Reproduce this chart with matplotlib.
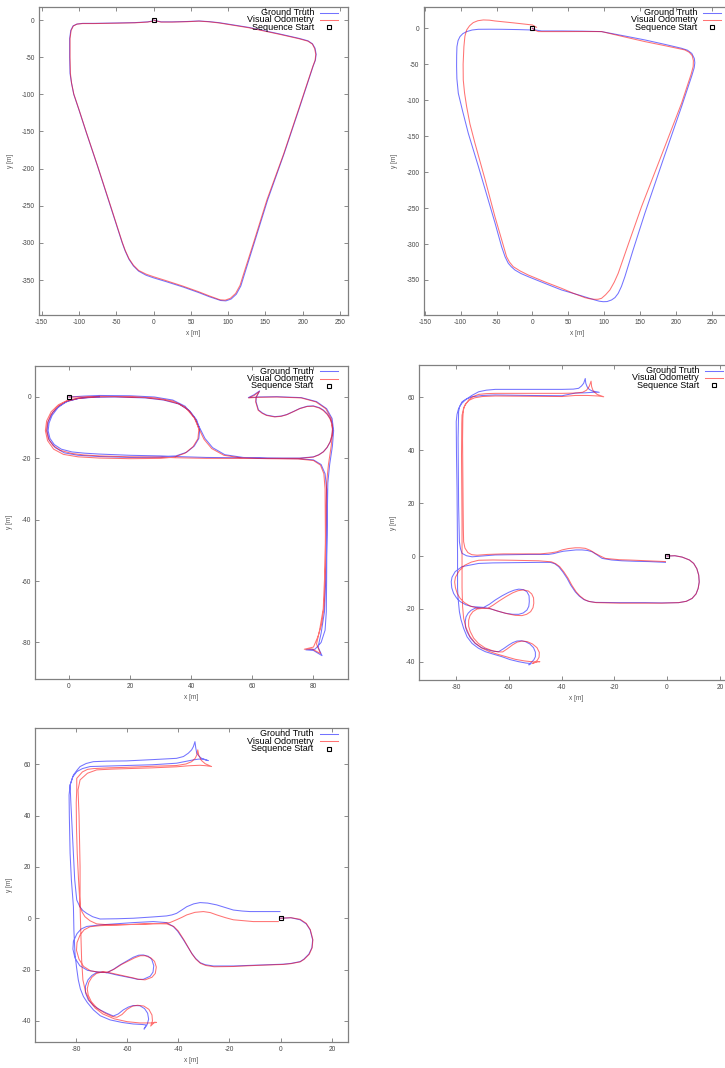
import matplotlib.pyplot as plt

# ---------------- data (trajectory waypoints, metres) ----------------
# panel 1
gt1 = [(0, 0), (3, -1), (10, -2.5), (25, -2.5), (45, -2), (61, -1.3), (75, -2.2), (88, -3.6), (128, -10),
       (170, -19), (195, -24.7), (207, -28), (213, -32), (216.5, -38), (218, -46), (217, -54), (214, -62),
       (196, -117), (175, -180), (153, -242), (135, -300), (121, -345), (117, -358), (111, -369),
       (104, -375.5), (97, -378), (90, -377.5), (75, -372.5), (61, -367), (40, -359.5), (16.5, -352),
       (0, -347), (-10, -343.5), (-20, -338), (-27, -331), (-33, -322), (-38, -311), (-42, -300),
       (-58, -250), (-75, -197), (-90, -152), (-100, -121), (-107, -100), (-110, -85), (-112, -72),
       (-112.5, -50), (-112.5, -25), (-111, -14), (-108, -8), (-103, -5.5), (-95, -4.5), (-80, -4.5),
       (-50, -4), (-25, -3.5), (-8, -2.5), (-2, -1.5)]
vo1 = [(0, 0), (3, -1.2), (10, -2.8), (25, -2.8), (45, -2.3), (61, -1.5), (75, -2.5), (88, -4), (128, -10.5),
       (170, -19.5), (195, -25.2), (207, -28.5), (213, -32.5), (216, -38.5), (217.5, -46.5), (216.5, -54.5),
       (213.5, -62.5), (195.5, -117), (174.5, -180), (152, -242), (134, -300), (120, -344), (116, -357),
       (110, -368), (103, -374.5), (96, -377), (89, -376.5), (74, -371), (60, -365.5), (39, -358),
       (16, -350.5), (0, -345.5), (-10, -342), (-20, -337), (-27, -330), (-33, -321), (-38, -310),
       (-42, -299), (-58, -249), (-75, -196.5), (-90, -151.5), (-100, -120.5), (-107, -99.5),
       (-110, -84.5), (-111.5, -71.5), (-112, -50), (-112, -25), (-110.5, -14), (-107.5, -8),
       (-102.5, -5.5), (-95, -4.8), (-80, -4.8), (-50, -4.3), (-25, -3.8), (-8, -2.8), (-2, -1.8)]

# panel 2
gt2 = [(0, 0), (3.5, -2.3), (12.8, -3.7), (40.6, -3.7), (70, -4), (96.3, -4.6), (130, -11), (156.6, -16.2),
       (185, -22.5), (207.7, -27.8), (216, -30.5), (222, -35), (225.5, -42), (226.2, -48), (225.3, -55),
       (222, -66), (207.7, -109), (182, -183), (156.6, -257.3), (140, -309), (128.8, -345.4), (124, -359),
       (119.5, -368.6), (115, -374.5), (110.2, -377.8), (104, -380), (98.6, -380.2), (93, -379.5),
       (87, -377.8), (65, -371), (40.6, -363.9), (18, -355), (-5.8, -345.4), (-16, -341), (-24.4, -336.1),
       (-29.5, -331.5), (-33.6, -326.8), (-38, -318), (-42.9, -303.7), (-52, -271), (-61.5, -238.8),
       (-75, -193), (-89.3, -146), (-97, -116), (-103.2, -90.4), (-105.2, -70), (-105.6, -53.3),
       (-105.5, -38), (-105.1, -25.5), (-103.5, -17), (-100.9, -11.6), (-97, -7.5), (-91.6, -4.6),
       (-84, -2.4), (-75.4, -1.4), (-60, -1.3), (-42.9, -1.4), (-20, -1.8), (-3.5, -2.3)]
vo2 = [(0, 0), (3, -2.5), (8.1, -4.6), (40.6, -4.6), (70, -4.5), (96.3, -4.6), (126, -11.5), (156.6, -18.5),
       (186, -24.5), (212.3, -30.1), (218.5, -33.5), (222.5, -38), (224.2, -45), (223.9, -53.3), (221, -64),
       (207.7, -104.3), (180, -176), (152, -248), (134, -299), (119.5, -340.7), (114, -353),
       (107.9, -363.9), (102, -370.5), (96.3, -375.5), (91.5, -376.8), (87, -376.9), (80, -376.2),
       (73.1, -374.6), (57, -368.5), (40.6, -361.6), (17, -352.5), (-5.8, -343.1), (-17, -337.5),
       (-26.7, -331.5), (-32, -325), (-36, -317.6), (-44, -290), (-52.2, -261.9), (-66, -210),
       (-80, -159.9), (-87, -133), (-91.6, -108.9), (-94.5, -90), (-96.3, -71.9), (-96.5, -50),
       (-95.4, -25.5), (-94, -11), (-91.6, -2.3), (-87.5, 3.5), (-82.4, 7.9), (-76, 10.5), (-68.4, 11.6),
       (-60, 11.3), (-52.2, 10.2), (-26, 7.5), (0, 4.6), (5.8, 1.4)]

# panel 3
gt3 = [(0, 0), (5, 0.3), (10, 0.5), (20, 0.4), (28, 0), (34, -1), (38, -3), (41, -6.5), (43, -10.5),
       (44.5, -13.5), (47, -16.5), (51, -18.8), (57, -19.7), (65, -20), (75, -20.1), (80, -20.5),
       (82.5, -22), (83.8, -25), (84.3, -30), (84.4, -45), (84.3, -60), (84.2, -70), (83.8, -76),
       (82.5, -80), (80.5, -82.2), (77.5, -82.4), (80, -82.6), (82.8, -84.3),
       (81.5, -81.5), (82.5, -77), (83.6, -70), (84.2, -55), (84.5, -40), (84.7, -28), (85.3, -22),
       (86.2, -16), (86.6, -11), (86.1, -7), (84.3, -3.8), (81, -1.5), (76, -0.2), (68, 0.1), (62, 0),
       (58.7, -0.2), (60.5, 0.7), (62.4, 2), (61.3, 0), (61.2, -1.5), (62, -4.2), (63.3, -5.2),
       (64.7, -5.9), (67.4, -6.4), (69.5, -6.2), (71.3, -5.7), (73.5, -4.7), (75.6, -3.7), (78, -3),
       (80, -2.9), (82, -3.5), (83.3, -4.3), (84.6, -5.6), (85.5, -7), (86.1, -8.7), (86.3, -10.3),
       (86.1, -12.5), (85.5, -14.6), (84.5, -16.4), (83.3, -17.8), (81.8, -18.8), (80, -19.5),
       (75.6, -19.9), (65, -19.9), (55, -19.8), (45, -19.7), (35, -19.4), (30, -19.2), (20, -19),
       (10, -18.6), (5, -18.3), (1, -17.9), (-2.5, -17), (-4.8, -15.5), (-6.2, -13.5), (-6.8, -11),
       (-6.5, -8.5), (-5.5, -6), (-3.6, -3.5), (-1, -1.6), (3, -0.5), (8, -0.1), (15, 0), (25, -0.3),
       (31, -1), (36, -2.3), (39.5, -4.5), (41.8, -7.5), (42.8, -10.5), (42.5, -13.5), (41, -16),
       (38.5, -18), (35, -19.2), (30, -19.6), (20, -19.7), (10, -19.4), (3, -19), (-1.5, -18.2),
       (-4.5, -16.5), (-6.5, -14), (-7.2, -11), (-6.8, -8), (-5.3, -5), (-3, -2.8), (0, -1.2),
       (4, -0.3), (10, 0.1)]
vo3 = [(0, 0), (5, 0), (10, 0.2), (20, 0.1), (28, -0.3), (34, -1.3), (38, -3.3), (41, -6.8), (42.7, -10.7),
       (44.2, -13.8), (46.7, -16.8), (50.7, -19), (56.7, -19.9), (65, -20.1), (75, -20.2), (80, -20.7),
       (82.3, -22.2), (83.4, -25), (83.8, -30), (83.9, -45), (83.8, -60), (83.5, -68), (82.7, -74),
       (81.5, -78), (80, -81.5), (77, -82.2), (79.5, -82.1), (82.3, -83.6),
       (81, -80.5), (82, -76), (83.2, -69), (83.8, -55), (84.1, -40), (84.3, -28), (84.9, -22),
       (85.8, -16), (86.3, -11), (85.8, -7), (84, -3.8), (80.8, -1.6), (76, -0.3), (68, 0), (62, -0.1),
       (58.8, -0.3), (60.6, 0.5), (62.3, 1.8), (61.2, -0.1), (61.1, -1.6), (61.9, -4.3), (63.2, -5.3),
       (64.6, -6), (67.3, -6.5), (69.4, -6.3), (71.2, -5.8), (73.4, -4.8), (75.5, -3.8), (77.9, -3.1),
       (79.9, -3), (81.9, -3.6), (83.2, -4.4), (84.5, -5.7), (85.4, -7.1), (86, -8.8), (86.2, -10.4),
       (86, -12.6), (85.4, -14.7), (84.4, -16.5), (83.2, -17.9), (81.7, -18.9), (79.9, -19.6),
       (75.5, -20), (65, -20), (55, -20), (45, -20), (35, -19.8), (30, -19.6), (20, -19.5),
       (10, -19.2), (5, -18.9), (1, -18.4), (-2.8, -17.4), (-5.2, -15.8), (-6.7, -13.6), (-7.3, -11),
       (-7, -8.4), (-5.9, -5.8), (-3.9, -3.3), (-1.2, -1.5), (3, -0.5), (8, 0), (15, 0.1), (25, -0.2),
       (31, -0.9), (36, -2.2), (39.3, -4.4), (41.5, -7.5), (42.5, -10.5), (42.2, -13.6), (40.6, -16.2),
       (38, -18.3), (34.5, -19.6), (30, -20), (20, -20.1), (10, -19.9), (3, -19.5), (-1.8, -18.7),
       (-5, -17), (-7, -14.2), (-7.7, -11), (-7.3, -7.8), (-5.8, -4.8), (-3.4, -2.5), (-0.3, -1),
       (4, -0.2), (10, 0.2)]

# panel 4
gt4 = [(0, 0), (3, 0.1), (5.7, -0.4), (8.5, -1.5), (10.1, -2.8), (11.3, -4.8), (12, -7.2), (12.2, -9.8),
       (11.8, -12.2), (11, -14.3), (9.5, -16), (7.3, -17.1), (4.4, -17.6), (-2, -17.7), (-8.2, -17.6),
       (-18, -17.6), (-27.2, -17.5), (-29.8, -17.1), (-31.6, -16.4), (-33.3, -15.1), (-34.8, -13.5),
       (-36.5, -11), (-37.9, -8.4), (-39.5, -6), (-41.1, -4), (-42.6, -2.9), (-44.2, -2.4), (-48.7, -2.4),
       (-58.8, -2.5), (-66, -2.6), (-71.4, -2.8), (-74.6, -3.4), (-77.7, -4), (-80.3, -5.9), (-81.5, -8),
       (-81.8, -9.7), (-81.6, -12), (-80.9, -14.1), (-79.8, -15.8), (-78.4, -17.2), (-76.3, -18.4),
       (-73.9, -19.1), (-69.5, -19.4),
       (-67.3, -18.2), (-65.1, -16.6), (-62.5, -15), (-60, -13.7), (-58, -12.9), (-56.2, -12.5),
       (-54.4, -12.7), (-53.1, -13.5), (-52.3, -15), (-52.2, -17.2), (-52.4, -19), (-53.1, -20.4),
       (-54.5, -21.5), (-56.2, -22), (-58.5, -22), (-61.3, -21.6), (-64.5, -20.7), (-67.6, -19.7),
       (-70, -19.5), (-72.7, -19.7), (-74.3, -20.5), (-75.4, -21.6), (-76.2, -23), (-76.5, -24.8),
       (-76.4, -26.8), (-75.8, -28.6), (-74.5, -31), (-72.7, -33), (-70.3, -34.6), (-67.6, -35.5),
       (-65.5, -36), (-63.8, -36.1),
       (-62, -35), (-60, -33.6), (-58.5, -32.7), (-56.9, -32.1), (-55.2, -32), (-53.7, -32.3),
       (-52, -33.2), (-50.6, -34.6), (-49.9, -36.3), (-49.9, -38), (-50.5, -39.2), (-51.2, -39.9),
       (-52.4, -41.1),
       (-51.5, -40.6), (-53.5, -40.4), (-56.2, -39.9), (-59.5, -39.1), (-62.6, -38), (-66, -37),
       (-68.9, -36.1), (-71.5, -34.8), (-73.9, -33), (-75.8, -30.5), (-77.1, -27.3), (-78.1, -24),
       (-78.7, -21), (-79.2, -16), (-79.4, -12.2), (-79.4, -5), (-79.4, 0.4), (-79.5, 12), (-79.6, 25.5),
       (-79.8, 38), (-79.9, 50.7), (-79.6, 53.5), (-79, 55.7), (-77.9, 57.5), (-76.5, 58.9), (-74, 60.6),
       (-71.4, 62), (-68.5, 62.6), (-65.1, 62.9), (-52, 62.9), (-39.8, 62.9), (-35.5, 63), (-33.5, 63.3),
       (-32.4, 64.2), (-31.6, 65.2), (-31, 67), (-30.8, 65.2), (-30.3, 63.9), (-29.5, 62.9),
       (-28.4, 62.3), (-25.7, 61.8),
       (-28, 61.8), (-31, 61.6), (-34.8, 61.5), (-39.8, 60.5), (-52, 60.6), (-65.1, 60.8), (-70, 60.6),
       (-73.9, 60.1), (-76, 59.3), (-77.7, 58.2), (-78.6, 56.5), (-79, 54.5), (-79.2, 44.4), (-79.1, 30),
       (-79, 19.2), (-78.8, 10), (-78.7, 5.4), (-78.3, 2.8), (-77.7, 1), (-76, 0.1), (-73.9, -0.3),
       (-70, 0), (-65.1, 0.4), (-58, 0.5), (-52.4, 0.6), (-44.9, 0.6), (-43, 0.9), (-41.1, 1.4),
       (-39.3, 1.8), (-37.3, 2), (-34.5, 2.3), (-32.2, 2.3), (-30.2, 2.1), (-28.4, 1.6), (-26.5, 0.4),
       (-24.6, -0.9), (-21, -1.5), (-17.1, -1.8), (-12, -2), (-7, -2.1), (-0.6, -2.4)]
vo4 = [(0, 0), (3, 0.1), (5.7, -0.4), (8.5, -1.5), (10.1, -2.8), (11.3, -4.8), (12, -7.2), (12.2, -9.8),
       (11.8, -12.2), (11, -14.3), (9.5, -16), (7.3, -17.1), (4.4, -17.6), (-2, -17.8), (-8.2, -17.8),
       (-18, -17.8), (-26.8, -17.6), (-29.4, -17.2), (-31.2, -16.5), (-32.9, -15.2), (-34.4, -13.6),
       (-36.1, -11), (-37.5, -8.4), (-39.1, -6), (-40.7, -4), (-42.2, -2.9), (-43.8, -2.2), (-48.7, -1.8),
       (-58.8, -1.6), (-66, -1.5), (-71.4, -1.6), (-74.2, -2.3), (-76.7, -3.5), (-78.8, -5.6), (-80.2, -8),
       (-80.5, -9.8), (-80.2, -12), (-79.5, -14.2), (-78.4, -16), (-76.8, -17.6), (-74.6, -18.9),
       (-72, -19.6), (-68, -19.8),
       (-66, -18.6), (-63.7, -17), (-61, -15.3), (-58.5, -13.9), (-56.5, -13.1), (-54.5, -12.8),
       (-52.6, -13.2), (-51.3, -14.3), (-50.6, -15.8), (-50.5, -17.8), (-50.8, -19.5), (-51.7, -21),
       (-53.2, -22), (-55, -22.5), (-57.5, -22.4), (-60.5, -21.8), (-63.8, -20.9), (-67, -19.9),
       (-69.5, -19.7), (-72, -20), (-73.6, -21), (-74.7, -22.5), (-75.2, -24.3), (-75.2, -26.5),
       (-74.6, -28.5), (-73.3, -31), (-71.5, -33), (-69, -34.7), (-66.3, -35.7), (-64, -36.2),
       (-62.3, -36.2),
       (-60.5, -35), (-58.5, -33.5), (-56.8, -32.5), (-55, -32.1), (-53, -32.3), (-51, -33.2),
       (-49.3, -34.6), (-48.4, -36.4), (-48.5, -38.2), (-49.2, -39.4), (-50, -40), (-51, -40.6),
       (-49, -39.8), (-48.2, -39.9),
       (-50.5, -40), (-54, -39.6), (-57.5, -39), (-61, -38), (-64.5, -37), (-67.5, -36), (-70.3, -34.7),
       (-72.8, -32.8), (-74.8, -30.2), (-76.2, -27), (-77.1, -23.5), (-77.5, -19), (-77.7, -12),
       (-77.7, -4), (-77.7, 0.4), (-77.7, 12), (-77.8, 25.5), (-77.9, 38), (-77.8, 50), (-77.7, 53.2),
       (-76.8, 56.5), (-75.2, 58.9), (-73.5, 60.2), (-71.4, 61), (-68.5, 61.3), (-65.1, 61.4),
       (-52, 61.4), (-39.8, 61.4), (-35, 61.5), (-32, 61.8), (-30.5, 62.6), (-29.5, 64), (-28.8, 66),
       (-28.6, 64), (-28, 62.3), (-26.5, 61), (-24, 60.1),
       (-26, 60.4), (-30, 60.6), (-34.8, 60.6), (-39.8, 60.2), (-52, 60.3), (-65.1, 60.4), (-70, 60.2),
       (-73, 59.7), (-75, 58.8), (-76.4, 57.4), (-77.2, 55.5), (-77.4, 52), (-77.5, 44), (-77.4, 30),
       (-77.3, 19.2), (-77.2, 10), (-77.1, 5.4), (-76.6, 3), (-75.5, 1.3), (-74, 0.5), (-72, 0.3),
       (-68, 0.6), (-62, 0.8), (-55, 0.8), (-48, 0.8), (-44, 1.2), (-41.7, 1.6), (-39.8, 2.3),
       (-37.5, 2.8), (-34.8, 3.1), (-33, 3.1), (-31, 2.9), (-29, 2.1), (-27.2, 1), (-25.3, 0),
       (-23.4, -0.9), (-18, -1.4), (-14.5, -1.5), (-8, -1.8), (-0.6, -2.1)]

# panel 5
gt5 = [(0, 0), (4, 0.2), (7.6, -0.6), (10, -2.2), (11.5, -4.5), (12.5, -8.4), (12.2, -11.5), (11, -14),
       (9, -16), (7.6, -16.9), (4, -17.6), (1, -17.9), (-10, -18.3), (-18.5, -18.6), (-26.3, -18.6),
       (-29.5, -18.1), (-31.5, -17.3), (-33.3, -15.6), (-34.8, -13.6), (-38, -8.4), (-40.3, -5),
       (-42, -3.2), (-44.6, -1.7), (-49.8, -1.3), (-57.6, -1.7), (-70.6, -2.6), (-75.8, -3.2),
       (-78, -4.2), (-79.6, -6), (-81, -9), (-81.2, -12), (-80.4, -15.5), (-78.5, -18.5),
       (-75.5, -20.3), (-71.9, -20.9), (-68, -21.2),
       (-65.5, -20), (-62.8, -18.2), (-57.6, -15.2), (-55.5, -14.4), (-53.7, -14.3), (-51.8, -14.8),
       (-50.4, -16), (-49.6, -18.5), (-49.9, -21), (-51, -22.6), (-53.7, -23.8), (-56, -23.8),
       (-57.6, -23.4), (-61, -22.7), (-64.1, -22.1), (-67, -21.4), (-69.3, -21), (-72, -21.2),
       (-73.8, -22.3), (-75.3, -24), (-76.3, -26.5), (-76.3, -29), (-75.2, -31.8), (-73.2, -34),
       (-70.6, -35.7), (-68, -37), (-65.4, -38.1),
       (-63.5, -37.3), (-61.5, -35.7), (-59.5, -34.6), (-57.6, -34), (-55, -34.1), (-53.2, -35.2),
       (-52, -37), (-51.6, -39.3), (-52.2, -41.5), (-53.4, -43.2),
       (-52.5, -41.6), (-54, -41.4), (-57.6, -41.2), (-62, -40.6), (-66.7, -39.6), (-70.5, -38),
       (-73.2, -35.7), (-75.6, -32.8), (-77.1, -30.5), (-78.3, -27.5), (-79.1, -24), (-79.8, -19),
       (-80.4, -13.6), (-80.8, -5), (-81, 4.5), (-81.8, 15), (-82.3, 25.3), (-82.6, 40), (-82.7, 48),
       (-82.3, 51.9), (-81, 55.8), (-79.5, 57.8), (-78.4, 59.1), (-76, 60.3), (-73.2, 61), (-68, 61.2),
       (-60.2, 61.3), (-50, 61.8), (-40.7, 62.3), (-38, 63), (-36.1, 64.3), (-34.8, 65.6),
       (-34.1, 66.9), (-33.5, 68.8), (-33.2, 66.5), (-32.8, 64.3), (-31.8, 63), (-30.9, 62.3),
       (-29.5, 61.7), (-28.3, 61.4),
       (-30, 62), (-32, 62), (-34.1, 61.7), (-40.7, 60.4), (-50, 59.8), (-60.2, 59.5), (-68, 59.3),
       (-74.5, 59.1), (-77.5, 58.3), (-79.7, 57.1), (-81.3, 55), (-82.3, 51.9), (-82, 45), (-81.5, 35),
       (-81, 25), (-80.5, 15), (-80, 10), (-79.7, 7.1), (-78.5, 4.5), (-77.3, 3), (-75.8, 1.9),
       (-73.5, 0.6), (-70.6, -0.3), (-64, -0.2), (-57.6, 0), (-50, 0.5), (-44.6, 0.9), (-42.5, 1.3),
       (-40.7, 1.9), (-38.5, 3.3), (-36.7, 4.5), (-34, 5.6), (-31.5, 6.1), (-28.5, 5.9), (-25, 5.2),
       (-21.5, 4.1), (-18.5, 3.2), (-15, 2.8), (-12, 2.6), (-6, 2.6), (-0.3, 2.6)]
vo5 = [(0, 0), (4, 0.2), (7.6, -0.4), (10, -2), (11.6, -4.5), (12.6, -8.4), (12.3, -11.5), (11.2, -14),
       (9.2, -16), (7.6, -17), (4, -17.7), (1, -18), (-10, -18.4), (-18.5, -18.8), (-26, -18.9),
       (-29.3, -18.4), (-31.3, -17.6), (-33.1, -16), (-34.6, -14), (-37.7, -8.6), (-40, -5),
       (-41.8, -3.2), (-44.5, -2.2), (-49.8, -2.1), (-57.6, -2.4), (-64, -2.6), (-70.6, -2.9),
       (-74.5, -3.3), (-76.8, -4.5), (-78.4, -6.5), (-79.6, -9.5), (-79.8, -12.5), (-78.8, -16),
       (-77, -18.8), (-74.3, -20.5), (-71, -21), (-67.5, -21),
       (-65, -19.8), (-62.2, -18), (-57, -15.4), (-54.8, -14.6), (-53, -14.6), (-50.8, -15.4),
       (-49.3, -16.8), (-48.6, -19), (-49, -21.5), (-50.3, -23), (-53, -24), (-55.5, -23.8),
       (-57.4, -23.3), (-61, -22.5), (-64, -21.8), (-67, -21.2), (-69.5, -20.9), (-72, -21.5),
       (-73.8, -23), (-75, -25), (-75.6, -27.5), (-75.2, -30), (-74, -32.5), (-71.8, -35), (-69, -36.8),
       (-66, -38.2), (-64, -38.6),
       (-62, -37.5), (-60, -35.5), (-58, -34.3), (-56, -33.9), (-53.5, -34.2), (-51.5, -35.5),
       (-50.3, -37.7), (-50.1, -40), (-50.8, -42), (-49.3, -40.5), (-48.5, -40.6),
       (-50.5, -40.8), (-55, -40.8), (-60, -40.3), (-65, -39.2), (-69.5, -37.3), (-72.5, -35),
       (-74.8, -32), (-76.3, -28.5), (-77.3, -24), (-77.8, -16), (-78.1, -5), (-78.4, 4.5), (-79, 15),
       (-79.5, 25), (-79.8, 35), (-79.9, 45), (-79.7, 50), (-79.7, 54.5), (-77.5, 57), (-75.5, 58),
       (-73.2, 58.3), (-67, 58.6), (-60.2, 58.8), (-50, 59.2), (-40.7, 59.5), (-37, 60.1), (-34.8, 61),
       (-33.4, 62.3), (-32.8, 63.6), (-32.4, 65.6), (-32, 63.5), (-31, 61.5), (-29.5, 60.2), (-27, 59.1),
       (-29, 59.4), (-31.5, 59.6), (-36, 59.4), (-40.7, 59), (-50, 58.6), (-60.2, 58.3), (-66, 58.1),
       (-71.9, 57.8), (-75.5, 56.5), (-78.4, 53.9), (-79.2, 50), (-78.8, 40), (-78.6, 30), (-78.4, 20),
       (-78.4, 10), (-78.4, 4.5), (-77.6, 2.4), (-76.5, 0.6), (-74.5, -1), (-71.9, -2.2), (-68, -2.5),
       (-64.1, -2.6), (-57, -2.4), (-51.1, -2.2), (-46, -2), (-43.3, -1.7), (-40.7, -0.6), (-38.5, 0.4),
       (-36.7, 1.3), (-33.5, 2.3), (-30.2, 2.6), (-27.5, 2.2), (-25, 1.3), (-21.5, 0.2), (-18.5, -0.6),
       (-14, -1), (-10.7, -1.3), (-5, -1.3), (-0.9, -1.3)]

start_point = (0, 0)
legend_labels = ['Ground Truth', 'Visual Odometry', 'Sequence Start']
ticks_big_x = [-150, -100, -50, 0, 50, 100, 150, 200, 250]
ticks_big_y = [0, -50, -100, -150, -200, -250, -300, -350]
ticks3_x = [0, 20, 40, 60, 80]
ticks3_y = [0, -20, -40, -60, -80]
ticks45_x = [-80, -60, -40, -20, 0, 20]
ticks45_y = [60, 40, 20, 0, -20, -40]

# ---------------- drawing ----------------
W, H = 725, 1068
BLUE = '#0000ff'
RED = '#ff0000'
plt.rcParams['font.family'] = ['Liberation Sans', 'DejaVu Sans']
plt.rcParams['axes.unicode_minus'] = False  # gnuplot prints plain hyphens

fig = plt.figure(figsize=(W / 100, H / 100), dpi=100)


def panel(rect, xlim, ylim, xticks, yticks, gt, vo):
    left, top, right, bottom = rect
    w, h = right - left, bottom - top
    ax = fig.add_axes([left / W, 1 - bottom / H, w / W, h / H])
    gx, gy = zip(*gt)
    vx, vy = zip(*vo)
    ax.plot(gx, gy, color=BLUE, lw=0.75, alpha=0.55)
    ax.plot(vx, vy, color=RED, lw=0.75, alpha=0.55)
    ax.plot([start_point[0]], [start_point[1]], 's', ms=2.5, mfc='none', mec='black', mew=0.8)
    ax.set_xlim(*xlim)
    ax.set_ylim(*ylim)
    ax.set_xticks(xticks)
    ax.set_yticks(yticks)
    ax.tick_params(direction='in', length=3, width=0.6, color='#777777', labelsize=4.7,
                   labelcolor='#444444', top=True, right=True, pad=3)
    for s in ax.spines.values():
        s.set_color('#808080')
        s.set_linewidth(0.9)
    ax.set_xlabel('x [m]', fontsize=4.7, color='#555555', labelpad=3)
    ax.set_ylabel('y [m]', fontsize=4.7, color='#555555', labelpad=6)

    # gnuplot style key, right aligned text with sample to the right
    for i, lab in enumerate(legend_labels):
        yy = 1 - (5.7 + 7.3 * i) / h
        ax.text(1 - 34 / w, yy, lab, transform=ax.transAxes, ha='right', va='center',
                fontsize=6.5, color='black')
        if i < 2:
            ax.plot([1 - 28 / w, 1 - 10 / w], [yy, yy], transform=ax.transAxes,
                    color=[BLUE, RED][i], lw=0.75, alpha=0.55, clip_on=False)
        else:
            ax.plot([1 - 19 / w], [yy], 's', transform=ax.transAxes, ms=2.5, mfc='none',
                    mec='black', mew=0.8, clip_on=False)
    return ax


panel((39, 7, 348, 315), (-153.6, 260.7), (-397, 17.5), ticks_big_x, ticks_big_y, gt1, vo1)
panel((423.7, 7, 731.3, 315), (-151.4, 277), (-398.7, 29.6), ticks_big_x, ticks_big_y, gt2, vo2)
panel((35.3, 365.7, 347.7, 679), (-11, 91.2), (-91.9, 10.2), ticks3_x, ticks3_y, gt3, vo3)
panel((419.3, 365, 733, 680), (-93.9, 25), (-46.8, 72.1), ticks45_x, ticks45_y, gt4, vo4)
panel((35.3, 728.3, 347.7, 1041.7), (-95.9, 26.2), (-48.1, 74.0), ticks45_x, ticks45_y, gt5, vo5)

fig.savefig('out.png', dpi=100)
